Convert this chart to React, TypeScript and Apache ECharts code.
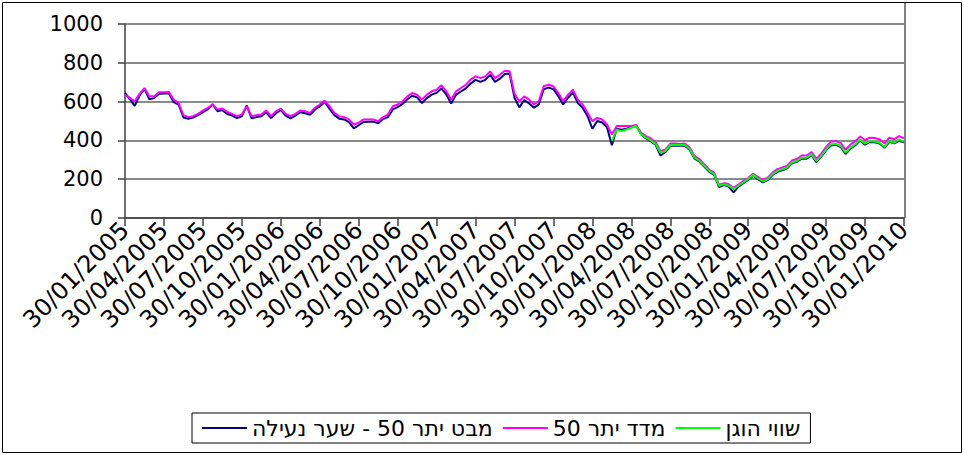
import React, { useEffect, useRef } from 'react';
import * as echarts from 'echarts';

// Quarterly tick labels (every 8th category)
const tickLabels = [
  '30/01/2005', '30/04/2005', '30/07/2005', '30/10/2005',
  '30/01/2006', '30/04/2006', '30/07/2006', '30/10/2006',
  '30/01/2007', '30/04/2007', '30/07/2007', '30/10/2007',
  '30/01/2008', '30/04/2008', '30/07/2008', '30/10/2008',
  '30/01/2009', '30/04/2009', '30/07/2009', '30/10/2009',
  '30/01/2010',
];
const pointsPerTick = 8;

const seriesNames = ['מבט יתר 50 - שער נעילה', 'מדד יתר 50', 'שווי הוגן'];

// מבט יתר 50 - שער נעילה (navy)
const closePrice = [
  645, 612, 578, 632, 665, 612, 618, 640, 642, 643, 598, 585, 518, 512, 518, 530, 546, 560, 586, 550, 556, 536, 528, 515, 524, 580, 514,
  520, 525, 545, 515, 540, 556, 528, 514, 528, 545, 540, 532, 558, 575, 598, 563, 530, 512, 508, 494, 462, 478, 495, 496, 497, 488, 510,
  520, 560, 572, 588, 612, 630, 622, 592, 618, 636, 645, 668, 636, 590, 636, 652, 668, 693, 712, 702, 712, 738, 702, 718, 742, 745,
  620, 570, 608, 590, 568, 586, 664, 672, 664, 628, 585, 620, 648, 592, 568, 525, 460, 500, 492, 468, 375, 460, 455, 460, 468, 475, 432,
  410, 396, 376, 322, 340, 372, 372, 373, 372, 350, 306, 290, 264, 238, 222, 160, 170, 162, 132, 162, 180, 196, 218, 200, 184, 196, 222,
  238, 246, 256, 282, 290, 306, 306, 324, 288, 316, 350, 374, 378, 366, 330, 358, 375, 400, 378, 392, 390, 384, 362, 393, 385, 398, 390,
];

// מדד יתר 50 (magenta)
const indexValues = [
  635, 619, 602, 640, 670, 627, 627, 648, 648, 650, 610, 593, 530, 520, 525, 537, 554, 568, 585, 559, 564, 547, 537, 525, 533, 576, 525,
  530, 533, 554, 525, 550, 564, 537, 525, 537, 554, 550, 542, 568, 585, 605, 576, 542, 525, 520, 508, 482, 491, 508, 508, 508, 499, 520,
  533, 576, 585, 602, 627, 644, 636, 610, 636, 653, 661, 684, 653, 610, 653, 670, 687, 713, 730, 721, 730, 756, 721, 738, 759, 756,
  640, 602, 627, 610, 585, 602, 679, 687, 679, 644, 602, 636, 661, 610, 585, 542, 499, 516, 508, 482, 431, 474, 474, 474, 474, 479, 439,
  422, 410, 390, 345, 352, 384, 384, 382, 384, 362, 320, 303, 276, 250, 234, 172, 180, 174, 155, 172, 190, 206, 228, 212, 195, 208, 234,
  252, 260, 270, 296, 304, 322, 322, 340, 306, 332, 366, 394, 396, 386, 352, 378, 396, 420, 402, 414, 412, 406, 384, 414, 406, 422, 410,
];

// שווי הוגן (green) – starts at category 100
const fairValueStart = 100;
const fairValue = [
  397, 456, 448, 456, 465, 474, 431,
  414, 400, 380, 337, 345, 376, 376, 376, 376, 354, 311, 294, 268, 243, 226, 166, 174, 166, 149, 166, 183, 200, 222, 205, 188, 200, 226,
  243, 251, 260, 286, 294, 311, 311, 328, 294, 320, 354, 380, 383, 371, 337, 363, 380, 405, 383, 397, 394, 388, 366, 397, 388, 405, 394,
];

const colors = ['#000080', '#FF00FF', '#00FF00'];

export default function App() {
  const ref = useRef<HTMLDivElement>(null);

  useEffect(() => {
    if (!ref.current) return;
    const chart = echarts.init(ref.current, null, { renderer: 'svg' });

    const categories = closePrice.map((_, i) => 'c' + i);
    const labelFor = (v: string) => {
      const i = parseInt(v.slice(1), 10);
      return i % pointsPerTick === 0 ? tickLabels[i / pointsPerTick] : '';
    };
    const greenData: (number | null)[] = [
      ...new Array(fairValueStart).fill(null),
      ...fairValue,
    ];

    const font = 'DejaVu Sans';
    const lineSeries = (name: string, data: (number | null)[], color: string) => ({
      name,
      type: 'line',
      data,
      symbol: 'none',
      showSymbol: false,
      connectNulls: false,
      lineStyle: { color, width: 2 },
      itemStyle: { color },
      emphasis: { disabled: true },
    });

    chart.setOption({
      animation: false,
      backgroundColor: '#ffffff',
      textStyle: { fontFamily: font },
      grid: { left: 125, top: 24, width: 779, height: 194 },
      xAxis: {
        type: 'category',
        data: categories,
        boundaryGap: false,
        axisLine: { lineStyle: { color: '#404040', width: 1.5 } },
        axisTick: {
          show: true,
          interval: pointsPerTick - 1,
          length: 8,
          lineStyle: { color: '#404040', width: 1.5 },
        },
        axisLabel: {
          interval: pointsPerTick - 1,
          rotate: 45,
          fontSize: 24,
          fontFamily: font,
          color: '#000',
          margin: 8,
          formatter: (v: string) => labelFor(v),
        },
        splitLine: { show: false },
      },
      yAxis: {
        type: 'value',
        min: 0,
        max: 1000,
        interval: 200,
        axisLine: { show: true, lineStyle: { color: '#404040', width: 1.5 } },
        axisTick: { show: true, length: 7, lineStyle: { color: '#404040', width: 1.5 } },
        axisLabel: {
          fontSize: 21,
          fontFamily: font,
          color: '#000',
          margin: 22,
          formatter: (v: number) => String(v),
        },
        splitLine: { show: true, lineStyle: { color: '#8a8a8a', width: 2 } },
      },
      legend: {
        data: seriesNames,
        left: 192,
        top: 413,
        orient: 'horizontal',
        icon: 'rect',
        itemWidth: 45,
        itemHeight: 2,
        itemGap: 10,
        padding: [4, 10, 4, 10],
        borderColor: '#000',
        borderWidth: 1,
        selectedMode: false,
        textStyle: { fontSize: 22, fontFamily: font, color: '#000' },
      },
      graphic: [
        {
          type: 'rect',
          silent: true,
          shape: { x: 2.5, y: 2.5, width: 959, height: 450 },
          style: { fill: 'none', stroke: '#000', lineWidth: 1 },
        },
        {
          type: 'line',
          silent: true,
          shape: { x1: 905, y1: 3, x2: 905, y2: 218 },
          style: { stroke: '#808080', lineWidth: 2 },
        },
      ],
      series: [
        lineSeries(seriesNames[0], closePrice, colors[0]),
        lineSeries(seriesNames[1], indexValues, colors[1]),
        lineSeries(seriesNames[2], greenData, colors[2]),
      ],
    });

    return () => chart.dispose();
  }, []);

  return (
    <div
      ref={ref}
      style={{ position: 'fixed', left: 0, top: 0, width: 964, height: 455, background: '#fff' }}
    />
  );
}
